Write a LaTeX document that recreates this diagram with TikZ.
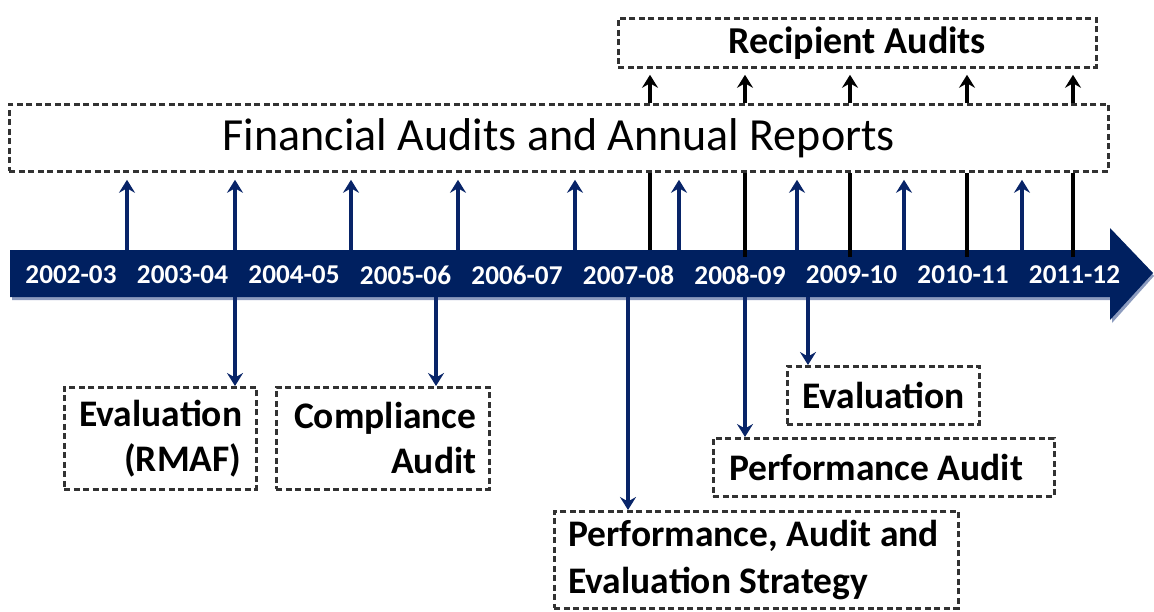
\documentclass[tikz,border=0pt]{standalone}
\usepackage{fontspec}
\setmainfont{Carlito}
\usetikzlibrary{arrows.meta}
\definecolor{navy}{RGB}{0,32,96}
\definecolor{navyarr}{RGB}{8,36,104}
\definecolor{shadowc}{RGB}{140,155,190}
\definecolor{boxgray}{RGB}{50,50,50}
\tikzset{
  dbox/.style={draw=boxgray, line width=2.8pt, dash pattern=on 6pt off 3.5pt, anchor=north west, inner sep=0pt, font=\fontsize{37.5}{45}\selectfont\bfseries},
  year/.style={text=white, font=\fontsize{27.2}{30}\selectfont\bfseries, inner sep=0pt},
  upnavy/.style={draw=navyarr, line width=4pt, -{Stealth[length=13pt,width=16pt,inset=4.5pt]}},
  dnnavy/.style={draw=navyarr, line width=4pt, -{Stealth[length=13pt,width=16pt,inset=4.5pt]}},
  blk/.style={draw=black, line width=3.6pt},
  blkarr/.style={draw=black, line width=3.6pt, -{Stealth[length=13pt,width=16pt,inset=4.5pt]}},
}
\begin{document}
\begin{tikzpicture}[x=1pt,y=-1pt]
\useasboundingbox (0,0) rectangle (1154,611);
% band arrow
\fill[shadowc] (12,253) -- (1112,253) -- (1112,231) -- (1154,276) -- (1112,323) -- (1112,300) -- (12,300) -- cycle;
\fill[navy] (10,250) -- (1110,250) -- (1110,228) -- (1153,273) -- (1110,320) -- (1110,297) -- (10,297) -- cycle;
% boxes
\node[dbox, minimum width=1099pt, minimum height=67pt, font=\fontsize{46}{52}\selectfont] (fin) at (8,103) {Financial Audits and Annual Reports};
\node[dbox, minimum width=478pt, minimum height=49pt, font=\fontsize{38}{45}\selectfont\bfseries] (rec) at (617,17) {Recipient Audits};
\node[dbox, minimum width=192pt, minimum height=102pt, text width=162pt, inner xsep=15pt, align=flush right] (rmaf) at (63,386) {Evaluation\\(RMAF)};
\node[dbox, minimum width=213pt, minimum height=102pt, text width=187pt, inner xsep=13pt, align=flush right] (comp) at (275,386) {Compliance\\Audit};
\node[dbox, minimum width=192pt, minimum height=58pt] (eval) at (786,365) {Evaluation};
\node[dbox, minimum width=341pt, minimum height=58pt, text width=309pt, inner xsep=16pt, align=flush left] (perf) at (712,437) {Performance Audit};
\node[dbox, minimum width=404pt, minimum height=97pt, text width=376pt, inner xsep=14pt, align=flush left, font=\fontsize{37.5}{47}\selectfont\bfseries] (paes) at (553,510) {Performance, Audit and\\Evaluation Strategy};
% year labels
\node[year] (y1) at (71,275) {2002-03};
\node[year] (y2) at (182.5,275) {2003-04};
\node[year] (y3) at (294,275) {2004-05};
\node[year] (y4) at (405.5,275) {2005-06};
\node[year] (y5) at (517,275) {2006-07};
\node[year] (y6) at (628.5,275) {2007-08};
\node[year] (y7) at (740,275) {2008-09};
\node[year] (y8) at (851.5,275) {2009-10};
\node[year] (y9) at (963,275) {2010-11};
\node[year] (y10) at (1074.5,275) {2011-12};
% up arrow origins on the band
\foreach \i/\x in {1/127,2/235,3/351,4/458,5/575,6/679,7/797,8/904,9/1022}
  \coordinate (u\i) at (\x,250);
\foreach \i in {1,...,9}
  \draw[upnavy, shorten >=7pt] (u\i) -- (u\i |- fin.south);
% black lines to recipient audits
\coordinate (k1) at (650,250);
\foreach \i/\x in {2/745,3/850,4/967,5/1073}
  \coordinate (k\i) at (\x,257);
\foreach \i in {1,...,5}{
  \draw[blk] (k\i) -- (k\i |- fin.south);
  \draw[blkarr, shorten >=6pt] (k\i |- fin.north) -- (k\i |- rec.south);
}
% down arrows
\coordinate (d1) at (235,297);
\coordinate (d2) at (436,297);
\coordinate (d3) at (628,297);
\coordinate (d4) at (745,297);
\coordinate (d5) at (808,297);
\draw[dnnavy] (d1) -- (d1 |- rmaf.north);
\draw[dnnavy] (d2) -- (d2 |- comp.north);
\draw[dnnavy] (d3) -- (d3 |- paes.north);
\draw[dnnavy] (d4) -- (d4 |- perf.north);
\draw[dnnavy] (d5) -- (d5 |- eval.north);
\end{tikzpicture}
\end{document}
